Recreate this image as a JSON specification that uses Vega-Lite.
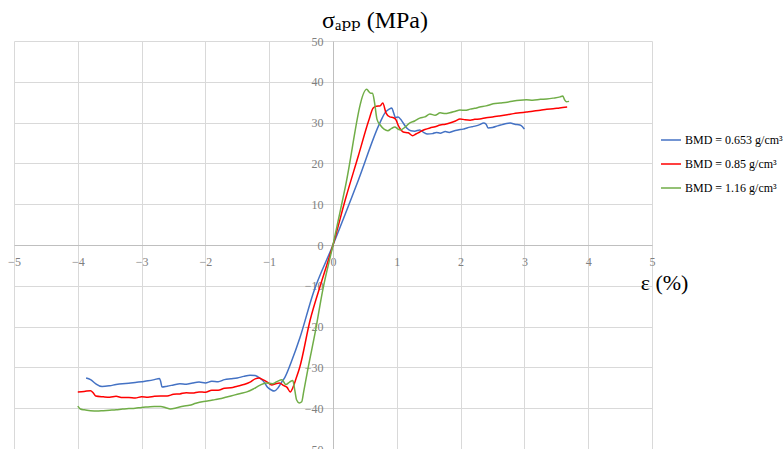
{
  "$schema": "https://vega.github.io/schema/vega-lite/v6.json",
  "autosize": "none",
  "width": 638,
  "height": 408,
  "padding": {"left": 14, "top": 41, "right": 132, "bottom": 0},
  "background": "white",
  "config": {"view": {"stroke": null}, "font": "Liberation Serif, DejaVu Serif, serif"},
  "title": {"text": "σₐₚₚ (MPa)", "frame": "group", "anchor": "middle", "dx": 42, "offset": -17, "baseline": "alphabetic", "fontSize": 24, "fontWeight": "normal", "font": "Liberation Serif, DejaVu Serif, serif", "color": "#000000"},
  "data": {"values": [
    {"s": "BMD = 0.653 g/cm³", "e": -3.87, "v": -32.6},
    {"s": "BMD = 0.653 g/cm³", "e": -3.80, "v": -33.0},
    {"s": "BMD = 0.653 g/cm³", "e": -3.72, "v": -34.0},
    {"s": "BMD = 0.653 g/cm³", "e": -3.62, "v": -34.7},
    {"s": "BMD = 0.653 g/cm³", "e": -3.50, "v": -34.5},
    {"s": "BMD = 0.653 g/cm³", "e": -3.40, "v": -34.2},
    {"s": "BMD = 0.653 g/cm³", "e": -3.30, "v": -34.0},
    {"s": "BMD = 0.653 g/cm³", "e": -3.20, "v": -33.9},
    {"s": "BMD = 0.653 g/cm³", "e": -3.10, "v": -33.7},
    {"s": "BMD = 0.653 g/cm³", "e": -3.00, "v": -33.5},
    {"s": "BMD = 0.653 g/cm³", "e": -2.90, "v": -33.3},
    {"s": "BMD = 0.653 g/cm³", "e": -2.80, "v": -33.0},
    {"s": "BMD = 0.653 g/cm³", "e": -2.72, "v": -32.7},
    {"s": "BMD = 0.653 g/cm³", "e": -2.70, "v": -33.5},
    {"s": "BMD = 0.653 g/cm³", "e": -2.68, "v": -34.8},
    {"s": "BMD = 0.653 g/cm³", "e": -2.60, "v": -34.6},
    {"s": "BMD = 0.653 g/cm³", "e": -2.50, "v": -34.3},
    {"s": "BMD = 0.653 g/cm³", "e": -2.40, "v": -34.0},
    {"s": "BMD = 0.653 g/cm³", "e": -2.30, "v": -34.1},
    {"s": "BMD = 0.653 g/cm³", "e": -2.20, "v": -33.8},
    {"s": "BMD = 0.653 g/cm³", "e": -2.10, "v": -33.6},
    {"s": "BMD = 0.653 g/cm³", "e": -2.00, "v": -33.8},
    {"s": "BMD = 0.653 g/cm³", "e": -1.90, "v": -33.4},
    {"s": "BMD = 0.653 g/cm³", "e": -1.80, "v": -33.5},
    {"s": "BMD = 0.653 g/cm³", "e": -1.70, "v": -33.0},
    {"s": "BMD = 0.653 g/cm³", "e": -1.60, "v": -32.8},
    {"s": "BMD = 0.653 g/cm³", "e": -1.50, "v": -32.6},
    {"s": "BMD = 0.653 g/cm³", "e": -1.40, "v": -32.2},
    {"s": "BMD = 0.653 g/cm³", "e": -1.30, "v": -31.9},
    {"s": "BMD = 0.653 g/cm³", "e": -1.22, "v": -32.0},
    {"s": "BMD = 0.653 g/cm³", "e": -1.15, "v": -32.6},
    {"s": "BMD = 0.653 g/cm³", "e": -1.08, "v": -33.6},
    {"s": "BMD = 0.653 g/cm³", "e": -1.03, "v": -34.8},
    {"s": "BMD = 0.653 g/cm³", "e": -0.97, "v": -35.5},
    {"s": "BMD = 0.653 g/cm³", "e": -0.92, "v": -35.8},
    {"s": "BMD = 0.653 g/cm³", "e": -0.86, "v": -35.0},
    {"s": "BMD = 0.653 g/cm³", "e": -0.80, "v": -33.5},
    {"s": "BMD = 0.653 g/cm³", "e": -0.75, "v": -32.3},
    {"s": "BMD = 0.653 g/cm³", "e": -0.65, "v": -28.5},
    {"s": "BMD = 0.653 g/cm³", "e": -0.52, "v": -22.8},
    {"s": "BMD = 0.653 g/cm³", "e": -0.31, "v": -11.8},
    {"s": "BMD = 0.653 g/cm³", "e": 0, "v": 0},
    {"s": "BMD = 0.653 g/cm³", "e": 0.40, "v": 16.0},
    {"s": "BMD = 0.653 g/cm³", "e": 0.74, "v": 30.1},
    {"s": "BMD = 0.653 g/cm³", "e": 0.82, "v": 32.5},
    {"s": "BMD = 0.653 g/cm³", "e": 0.88, "v": 33.3},
    {"s": "BMD = 0.653 g/cm³", "e": 0.92, "v": 33.6},
    {"s": "BMD = 0.653 g/cm³", "e": 0.95, "v": 32.4},
    {"s": "BMD = 0.653 g/cm³", "e": 0.98, "v": 31.2},
    {"s": "BMD = 0.653 g/cm³", "e": 1.02, "v": 31.4},
    {"s": "BMD = 0.653 g/cm³", "e": 1.06, "v": 30.8},
    {"s": "BMD = 0.653 g/cm³", "e": 1.10, "v": 29.9},
    {"s": "BMD = 0.653 g/cm³", "e": 1.16, "v": 28.6},
    {"s": "BMD = 0.653 g/cm³", "e": 1.22, "v": 28.0},
    {"s": "BMD = 0.653 g/cm³", "e": 1.28, "v": 27.9},
    {"s": "BMD = 0.653 g/cm³", "e": 1.36, "v": 28.2},
    {"s": "BMD = 0.653 g/cm³", "e": 1.42, "v": 27.6},
    {"s": "BMD = 0.653 g/cm³", "e": 1.48, "v": 27.2},
    {"s": "BMD = 0.653 g/cm³", "e": 1.56, "v": 27.3},
    {"s": "BMD = 0.653 g/cm³", "e": 1.62, "v": 27.6},
    {"s": "BMD = 0.653 g/cm³", "e": 1.68, "v": 27.4},
    {"s": "BMD = 0.653 g/cm³", "e": 1.76, "v": 27.8},
    {"s": "BMD = 0.653 g/cm³", "e": 1.82, "v": 27.6},
    {"s": "BMD = 0.653 g/cm³", "e": 1.88, "v": 27.9},
    {"s": "BMD = 0.653 g/cm³", "e": 1.96, "v": 28.2},
    {"s": "BMD = 0.653 g/cm³", "e": 2.04, "v": 28.4},
    {"s": "BMD = 0.653 g/cm³", "e": 2.10, "v": 28.7},
    {"s": "BMD = 0.653 g/cm³", "e": 2.18, "v": 29.0},
    {"s": "BMD = 0.653 g/cm³", "e": 2.24, "v": 29.2},
    {"s": "BMD = 0.653 g/cm³", "e": 2.30, "v": 29.5},
    {"s": "BMD = 0.653 g/cm³", "e": 2.36, "v": 29.9},
    {"s": "BMD = 0.653 g/cm³", "e": 2.40, "v": 29.6},
    {"s": "BMD = 0.653 g/cm³", "e": 2.43, "v": 28.7},
    {"s": "BMD = 0.653 g/cm³", "e": 2.50, "v": 28.8},
    {"s": "BMD = 0.653 g/cm³", "e": 2.58, "v": 29.2},
    {"s": "BMD = 0.653 g/cm³", "e": 2.65, "v": 29.5},
    {"s": "BMD = 0.653 g/cm³", "e": 2.72, "v": 29.8},
    {"s": "BMD = 0.653 g/cm³", "e": 2.78, "v": 29.9},
    {"s": "BMD = 0.653 g/cm³", "e": 2.85, "v": 29.6},
    {"s": "BMD = 0.653 g/cm³", "e": 2.93, "v": 29.4},
    {"s": "BMD = 0.653 g/cm³", "e": 2.97, "v": 29.0},
    {"s": "BMD = 0.653 g/cm³", "e": 3.00, "v": 28.4},

    {"s": "BMD = 0.85 g/cm³", "e": -4.00, "v": -36.0},
    {"s": "BMD = 0.85 g/cm³", "e": -3.90, "v": -35.9},
    {"s": "BMD = 0.85 g/cm³", "e": -3.80, "v": -35.7},
    {"s": "BMD = 0.85 g/cm³", "e": -3.76, "v": -36.2},
    {"s": "BMD = 0.85 g/cm³", "e": -3.72, "v": -37.0},
    {"s": "BMD = 0.85 g/cm³", "e": -3.60, "v": -37.2},
    {"s": "BMD = 0.85 g/cm³", "e": -3.50, "v": -37.3},
    {"s": "BMD = 0.85 g/cm³", "e": -3.40, "v": -37.1},
    {"s": "BMD = 0.85 g/cm³", "e": -3.30, "v": -37.4},
    {"s": "BMD = 0.85 g/cm³", "e": -3.20, "v": -37.4},
    {"s": "BMD = 0.85 g/cm³", "e": -3.10, "v": -37.5},
    {"s": "BMD = 0.85 g/cm³", "e": -3.00, "v": -37.2},
    {"s": "BMD = 0.85 g/cm³", "e": -2.90, "v": -37.3},
    {"s": "BMD = 0.85 g/cm³", "e": -2.80, "v": -37.1},
    {"s": "BMD = 0.85 g/cm³", "e": -2.70, "v": -37.0},
    {"s": "BMD = 0.85 g/cm³", "e": -2.60, "v": -37.0},
    {"s": "BMD = 0.85 g/cm³", "e": -2.50, "v": -36.6},
    {"s": "BMD = 0.85 g/cm³", "e": -2.40, "v": -36.5},
    {"s": "BMD = 0.85 g/cm³", "e": -2.30, "v": -36.2},
    {"s": "BMD = 0.85 g/cm³", "e": -2.20, "v": -36.3},
    {"s": "BMD = 0.85 g/cm³", "e": -2.10, "v": -36.0},
    {"s": "BMD = 0.85 g/cm³", "e": -2.00, "v": -36.1},
    {"s": "BMD = 0.85 g/cm³", "e": -1.90, "v": -35.6},
    {"s": "BMD = 0.85 g/cm³", "e": -1.80, "v": -35.6},
    {"s": "BMD = 0.85 g/cm³", "e": -1.70, "v": -35.1},
    {"s": "BMD = 0.85 g/cm³", "e": -1.60, "v": -35.0},
    {"s": "BMD = 0.85 g/cm³", "e": -1.50, "v": -34.6},
    {"s": "BMD = 0.85 g/cm³", "e": -1.40, "v": -34.2},
    {"s": "BMD = 0.85 g/cm³", "e": -1.30, "v": -33.6},
    {"s": "BMD = 0.85 g/cm³", "e": -1.22, "v": -32.8},
    {"s": "BMD = 0.85 g/cm³", "e": -1.16, "v": -32.6},
    {"s": "BMD = 0.85 g/cm³", "e": -1.10, "v": -33.0},
    {"s": "BMD = 0.85 g/cm³", "e": -1.03, "v": -33.6},
    {"s": "BMD = 0.85 g/cm³", "e": -0.96, "v": -34.3},
    {"s": "BMD = 0.85 g/cm³", "e": -0.90, "v": -34.0},
    {"s": "BMD = 0.85 g/cm³", "e": -0.84, "v": -33.8},
    {"s": "BMD = 0.85 g/cm³", "e": -0.78, "v": -34.4},
    {"s": "BMD = 0.85 g/cm³", "e": -0.72, "v": -34.9},
    {"s": "BMD = 0.85 g/cm³", "e": -0.67, "v": -36.0},
    {"s": "BMD = 0.85 g/cm³", "e": -0.63, "v": -35.0},
    {"s": "BMD = 0.85 g/cm³", "e": -0.58, "v": -32.8},
    {"s": "BMD = 0.85 g/cm³", "e": -0.52, "v": -29.9},
    {"s": "BMD = 0.85 g/cm³", "e": -0.36, "v": -18.5},
    {"s": "BMD = 0.85 g/cm³", "e": -0.18, "v": -9.0},
    {"s": "BMD = 0.85 g/cm³", "e": 0, "v": 0},
    {"s": "BMD = 0.85 g/cm³", "e": 0.20, "v": 11.5},
    {"s": "BMD = 0.85 g/cm³", "e": 0.40, "v": 22.0},
    {"s": "BMD = 0.85 g/cm³", "e": 0.56, "v": 30.5},
    {"s": "BMD = 0.85 g/cm³", "e": 0.63, "v": 33.6},
    {"s": "BMD = 0.85 g/cm³", "e": 0.68, "v": 34.0},
    {"s": "BMD = 0.85 g/cm³", "e": 0.74, "v": 34.1},
    {"s": "BMD = 0.85 g/cm³", "e": 0.78, "v": 34.8},
    {"s": "BMD = 0.85 g/cm³", "e": 0.83, "v": 32.4},
    {"s": "BMD = 0.85 g/cm³", "e": 0.89, "v": 31.4},
    {"s": "BMD = 0.85 g/cm³", "e": 0.95, "v": 31.2},
    {"s": "BMD = 0.85 g/cm³", "e": 0.99, "v": 30.6},
    {"s": "BMD = 0.85 g/cm³", "e": 1.02, "v": 29.4},
    {"s": "BMD = 0.85 g/cm³", "e": 1.06, "v": 28.3},
    {"s": "BMD = 0.85 g/cm³", "e": 1.10, "v": 27.7},
    {"s": "BMD = 0.85 g/cm³", "e": 1.18, "v": 27.5},
    {"s": "BMD = 0.85 g/cm³", "e": 1.25, "v": 26.8},
    {"s": "BMD = 0.85 g/cm³", "e": 1.30, "v": 27.2},
    {"s": "BMD = 0.85 g/cm³", "e": 1.36, "v": 27.7},
    {"s": "BMD = 0.85 g/cm³", "e": 1.44, "v": 28.3},
    {"s": "BMD = 0.85 g/cm³", "e": 1.52, "v": 28.7},
    {"s": "BMD = 0.85 g/cm³", "e": 1.60, "v": 29.0},
    {"s": "BMD = 0.85 g/cm³", "e": 1.68, "v": 29.4},
    {"s": "BMD = 0.85 g/cm³", "e": 1.76, "v": 29.6},
    {"s": "BMD = 0.85 g/cm³", "e": 1.83, "v": 29.9},
    {"s": "BMD = 0.85 g/cm³", "e": 1.92, "v": 30.4},
    {"s": "BMD = 0.85 g/cm³", "e": 1.99, "v": 30.9},
    {"s": "BMD = 0.85 g/cm³", "e": 2.07, "v": 30.7},
    {"s": "BMD = 0.85 g/cm³", "e": 2.15, "v": 30.6},
    {"s": "BMD = 0.85 g/cm³", "e": 2.22, "v": 30.8},
    {"s": "BMD = 0.85 g/cm³", "e": 2.30, "v": 30.9},
    {"s": "BMD = 0.85 g/cm³", "e": 2.40, "v": 31.2},
    {"s": "BMD = 0.85 g/cm³", "e": 2.50, "v": 31.4},
    {"s": "BMD = 0.85 g/cm³", "e": 2.60, "v": 31.6},
    {"s": "BMD = 0.85 g/cm³", "e": 2.73, "v": 31.9},
    {"s": "BMD = 0.85 g/cm³", "e": 2.83, "v": 32.2},
    {"s": "BMD = 0.85 g/cm³", "e": 2.93, "v": 32.4},
    {"s": "BMD = 0.85 g/cm³", "e": 3.03, "v": 32.6},
    {"s": "BMD = 0.85 g/cm³", "e": 3.13, "v": 32.8},
    {"s": "BMD = 0.85 g/cm³", "e": 3.25, "v": 33.0},
    {"s": "BMD = 0.85 g/cm³", "e": 3.35, "v": 33.3},
    {"s": "BMD = 0.85 g/cm³", "e": 3.45, "v": 33.4},
    {"s": "BMD = 0.85 g/cm³", "e": 3.55, "v": 33.6},
    {"s": "BMD = 0.85 g/cm³", "e": 3.67, "v": 33.8},

    {"s": "BMD = 1.16 g/cm³", "e": -4.00, "v": -39.5},
    {"s": "BMD = 1.16 g/cm³", "e": -3.96, "v": -40.2},
    {"s": "BMD = 1.16 g/cm³", "e": -3.90, "v": -40.4},
    {"s": "BMD = 1.16 g/cm³", "e": -3.80, "v": -40.6},
    {"s": "BMD = 1.16 g/cm³", "e": -3.70, "v": -40.7},
    {"s": "BMD = 1.16 g/cm³", "e": -3.60, "v": -40.6},
    {"s": "BMD = 1.16 g/cm³", "e": -3.50, "v": -40.5},
    {"s": "BMD = 1.16 g/cm³", "e": -3.40, "v": -40.4},
    {"s": "BMD = 1.16 g/cm³", "e": -3.30, "v": -40.2},
    {"s": "BMD = 1.16 g/cm³", "e": -3.20, "v": -40.1},
    {"s": "BMD = 1.16 g/cm³", "e": -3.10, "v": -40.0},
    {"s": "BMD = 1.16 g/cm³", "e": -3.00, "v": -39.8},
    {"s": "BMD = 1.16 g/cm³", "e": -2.90, "v": -39.7},
    {"s": "BMD = 1.16 g/cm³", "e": -2.80, "v": -39.6},
    {"s": "BMD = 1.16 g/cm³", "e": -2.70, "v": -39.6},
    {"s": "BMD = 1.16 g/cm³", "e": -2.62, "v": -39.9},
    {"s": "BMD = 1.16 g/cm³", "e": -2.55, "v": -40.2},
    {"s": "BMD = 1.16 g/cm³", "e": -2.45, "v": -39.9},
    {"s": "BMD = 1.16 g/cm³", "e": -2.35, "v": -39.5},
    {"s": "BMD = 1.16 g/cm³", "e": -2.25, "v": -39.3},
    {"s": "BMD = 1.16 g/cm³", "e": -2.15, "v": -38.8},
    {"s": "BMD = 1.16 g/cm³", "e": -2.05, "v": -38.4},
    {"s": "BMD = 1.16 g/cm³", "e": -1.95, "v": -38.2},
    {"s": "BMD = 1.16 g/cm³", "e": -1.85, "v": -37.9},
    {"s": "BMD = 1.16 g/cm³", "e": -1.75, "v": -37.6},
    {"s": "BMD = 1.16 g/cm³", "e": -1.65, "v": -37.2},
    {"s": "BMD = 1.16 g/cm³", "e": -1.55, "v": -36.8},
    {"s": "BMD = 1.16 g/cm³", "e": -1.45, "v": -36.4},
    {"s": "BMD = 1.16 g/cm³", "e": -1.35, "v": -36.0},
    {"s": "BMD = 1.16 g/cm³", "e": -1.25, "v": -35.3},
    {"s": "BMD = 1.16 g/cm³", "e": -1.15, "v": -34.4},
    {"s": "BMD = 1.16 g/cm³", "e": -1.05, "v": -33.8},
    {"s": "BMD = 1.16 g/cm³", "e": -0.95, "v": -34.0},
    {"s": "BMD = 1.16 g/cm³", "e": -0.88, "v": -33.5},
    {"s": "BMD = 1.16 g/cm³", "e": -0.80, "v": -33.0},
    {"s": "BMD = 1.16 g/cm³", "e": -0.74, "v": -34.2},
    {"s": "BMD = 1.16 g/cm³", "e": -0.68, "v": -33.6},
    {"s": "BMD = 1.16 g/cm³", "e": -0.63, "v": -33.2},
    {"s": "BMD = 1.16 g/cm³", "e": -0.60, "v": -35.5},
    {"s": "BMD = 1.16 g/cm³", "e": -0.57, "v": -38.0},
    {"s": "BMD = 1.16 g/cm³", "e": -0.53, "v": -38.7},
    {"s": "BMD = 1.16 g/cm³", "e": -0.49, "v": -38.4},
    {"s": "BMD = 1.16 g/cm³", "e": -0.46, "v": -36.0},
    {"s": "BMD = 1.16 g/cm³", "e": -0.39, "v": -30.1},
    {"s": "BMD = 1.16 g/cm³", "e": -0.28, "v": -21.5},
    {"s": "BMD = 1.16 g/cm³", "e": -0.16, "v": -11.0},
    {"s": "BMD = 1.16 g/cm³", "e": 0, "v": 0},
    {"s": "BMD = 1.16 g/cm³", "e": 0.19, "v": 14.0},
    {"s": "BMD = 1.16 g/cm³", "e": 0.53, "v": 38.2},
    {"s": "BMD = 1.16 g/cm³", "e": 0.56, "v": 37.6},
    {"s": "BMD = 1.16 g/cm³", "e": 0.59, "v": 37.2},
    {"s": "BMD = 1.16 g/cm³", "e": 0.62, "v": 37.2},
    {"s": "BMD = 1.16 g/cm³", "e": 0.65, "v": 35.0},
    {"s": "BMD = 1.16 g/cm³", "e": 0.69, "v": 30.8},
    {"s": "BMD = 1.16 g/cm³", "e": 0.74, "v": 29.4},
    {"s": "BMD = 1.16 g/cm³", "e": 0.80, "v": 28.4},
    {"s": "BMD = 1.16 g/cm³", "e": 0.86, "v": 28.0},
    {"s": "BMD = 1.16 g/cm³", "e": 0.92, "v": 28.6},
    {"s": "BMD = 1.16 g/cm³", "e": 0.97, "v": 28.9},
    {"s": "BMD = 1.16 g/cm³", "e": 1.02, "v": 28.4},
    {"s": "BMD = 1.16 g/cm³", "e": 1.06, "v": 28.2},
    {"s": "BMD = 1.16 g/cm³", "e": 1.13, "v": 28.9},
    {"s": "BMD = 1.16 g/cm³", "e": 1.20, "v": 29.9},
    {"s": "BMD = 1.16 g/cm³", "e": 1.28, "v": 30.4},
    {"s": "BMD = 1.16 g/cm³", "e": 1.36, "v": 31.1},
    {"s": "BMD = 1.16 g/cm³", "e": 1.44, "v": 31.4},
    {"s": "BMD = 1.16 g/cm³", "e": 1.52, "v": 32.1},
    {"s": "BMD = 1.16 g/cm³", "e": 1.60, "v": 31.8},
    {"s": "BMD = 1.16 g/cm³", "e": 1.68, "v": 32.4},
    {"s": "BMD = 1.16 g/cm³", "e": 1.76, "v": 32.2},
    {"s": "BMD = 1.16 g/cm³", "e": 1.83, "v": 32.4},
    {"s": "BMD = 1.16 g/cm³", "e": 1.92, "v": 32.8},
    {"s": "BMD = 1.16 g/cm³", "e": 1.99, "v": 33.1},
    {"s": "BMD = 1.16 g/cm³", "e": 2.07, "v": 33.0},
    {"s": "BMD = 1.16 g/cm³", "e": 2.15, "v": 33.3},
    {"s": "BMD = 1.16 g/cm³", "e": 2.22, "v": 33.5},
    {"s": "BMD = 1.16 g/cm³", "e": 2.30, "v": 33.8},
    {"s": "BMD = 1.16 g/cm³", "e": 2.40, "v": 34.1},
    {"s": "BMD = 1.16 g/cm³", "e": 2.51, "v": 34.6},
    {"s": "BMD = 1.16 g/cm³", "e": 2.62, "v": 34.8},
    {"s": "BMD = 1.16 g/cm³", "e": 2.73, "v": 35.0},
    {"s": "BMD = 1.16 g/cm³", "e": 2.83, "v": 35.3},
    {"s": "BMD = 1.16 g/cm³", "e": 2.93, "v": 35.5},
    {"s": "BMD = 1.16 g/cm³", "e": 3.03, "v": 35.6},
    {"s": "BMD = 1.16 g/cm³", "e": 3.13, "v": 35.5},
    {"s": "BMD = 1.16 g/cm³", "e": 3.25, "v": 35.7},
    {"s": "BMD = 1.16 g/cm³", "e": 3.35, "v": 35.8},
    {"s": "BMD = 1.16 g/cm³", "e": 3.45, "v": 36.0},
    {"s": "BMD = 1.16 g/cm³", "e": 3.56, "v": 36.3},
    {"s": "BMD = 1.16 g/cm³", "e": 3.60, "v": 36.5},
    {"s": "BMD = 1.16 g/cm³", "e": 3.63, "v": 35.6},
    {"s": "BMD = 1.16 g/cm³", "e": 3.66, "v": 35.1},
    {"s": "BMD = 1.16 g/cm³", "e": 3.70, "v": 35.2}
  ]},
  "mark": {"type": "line", "strokeWidth": 1.5, "interpolate": "monotone"},
  "encoding": {
    "x": {"field": "e", "type": "quantitative",
      "scale": {"domain": [-5, 5], "nice": false, "zero": false},
      "axis": {"values": [-5,-4,-3,-2,-1,0,1,2,3,4,5], "offset": -204, "grid": true, "gridColor": "#d9d9d9", "gridWidth": 1,
        "domainColor": "#bfbfbf", "ticks": false, "labelPadding": 11, "labelFlush": false, "labelOverlap": false,
        "labelFont": "Liberation Serif, DejaVu Serif, serif", "labelFontSize": 12, "labelColor": "#808080",
        "title": "ε (%)", "titleFont": "Liberation Serif, DejaVu Serif, serif", "titleFontSize": 22, "titleFontWeight": "normal", "titleColor": "#000000",
        "titleX": 650, "titleY": 44, "titleAlign": "center", "titleBaseline": "alphabetic", "titleAnchor": null}},
    "y": {"field": "v", "type": "quantitative",
      "scale": {"domain": [-50, 50], "nice": false, "zero": false},
      "axis": {"values": [-50,-40,-30,-20,-10,0,10,20,30,40,50], "offset": -319, "grid": true, "gridColor": "#d9d9d9", "gridWidth": 1,
        "domainColor": "#bfbfbf", "ticks": false, "labelPadding": 10, "labelFlush": false, "labelOverlap": false,
        "labelFont": "Liberation Serif, DejaVu Serif, serif", "labelFontSize": 12, "labelColor": "#808080", "title": null}},
    "color": {"field": "s", "type": "nominal",
      "sort": ["BMD = 0.653 g/cm³", "BMD = 0.85 g/cm³", "BMD = 1.16 g/cm³"],
      "scale": {"domain": ["BMD = 0.653 g/cm³", "BMD = 0.85 g/cm³", "BMD = 1.16 g/cm³"], "range": ["#4472C4", "#FF0000", "#70AD47"]},
      "legend": {"orient": "none", "legendX": 646, "legendY": 88, "title": null, "symbolType": "stroke", "symbolSize": 400, "symbolStrokeWidth": 1.5,
        "labelFont": "Liberation Serif, DejaVu Serif, serif", "labelFontSize": 12, "labelColor": "#000000", "rowPadding": 7, "labelOffset": 3}}
  }
}
